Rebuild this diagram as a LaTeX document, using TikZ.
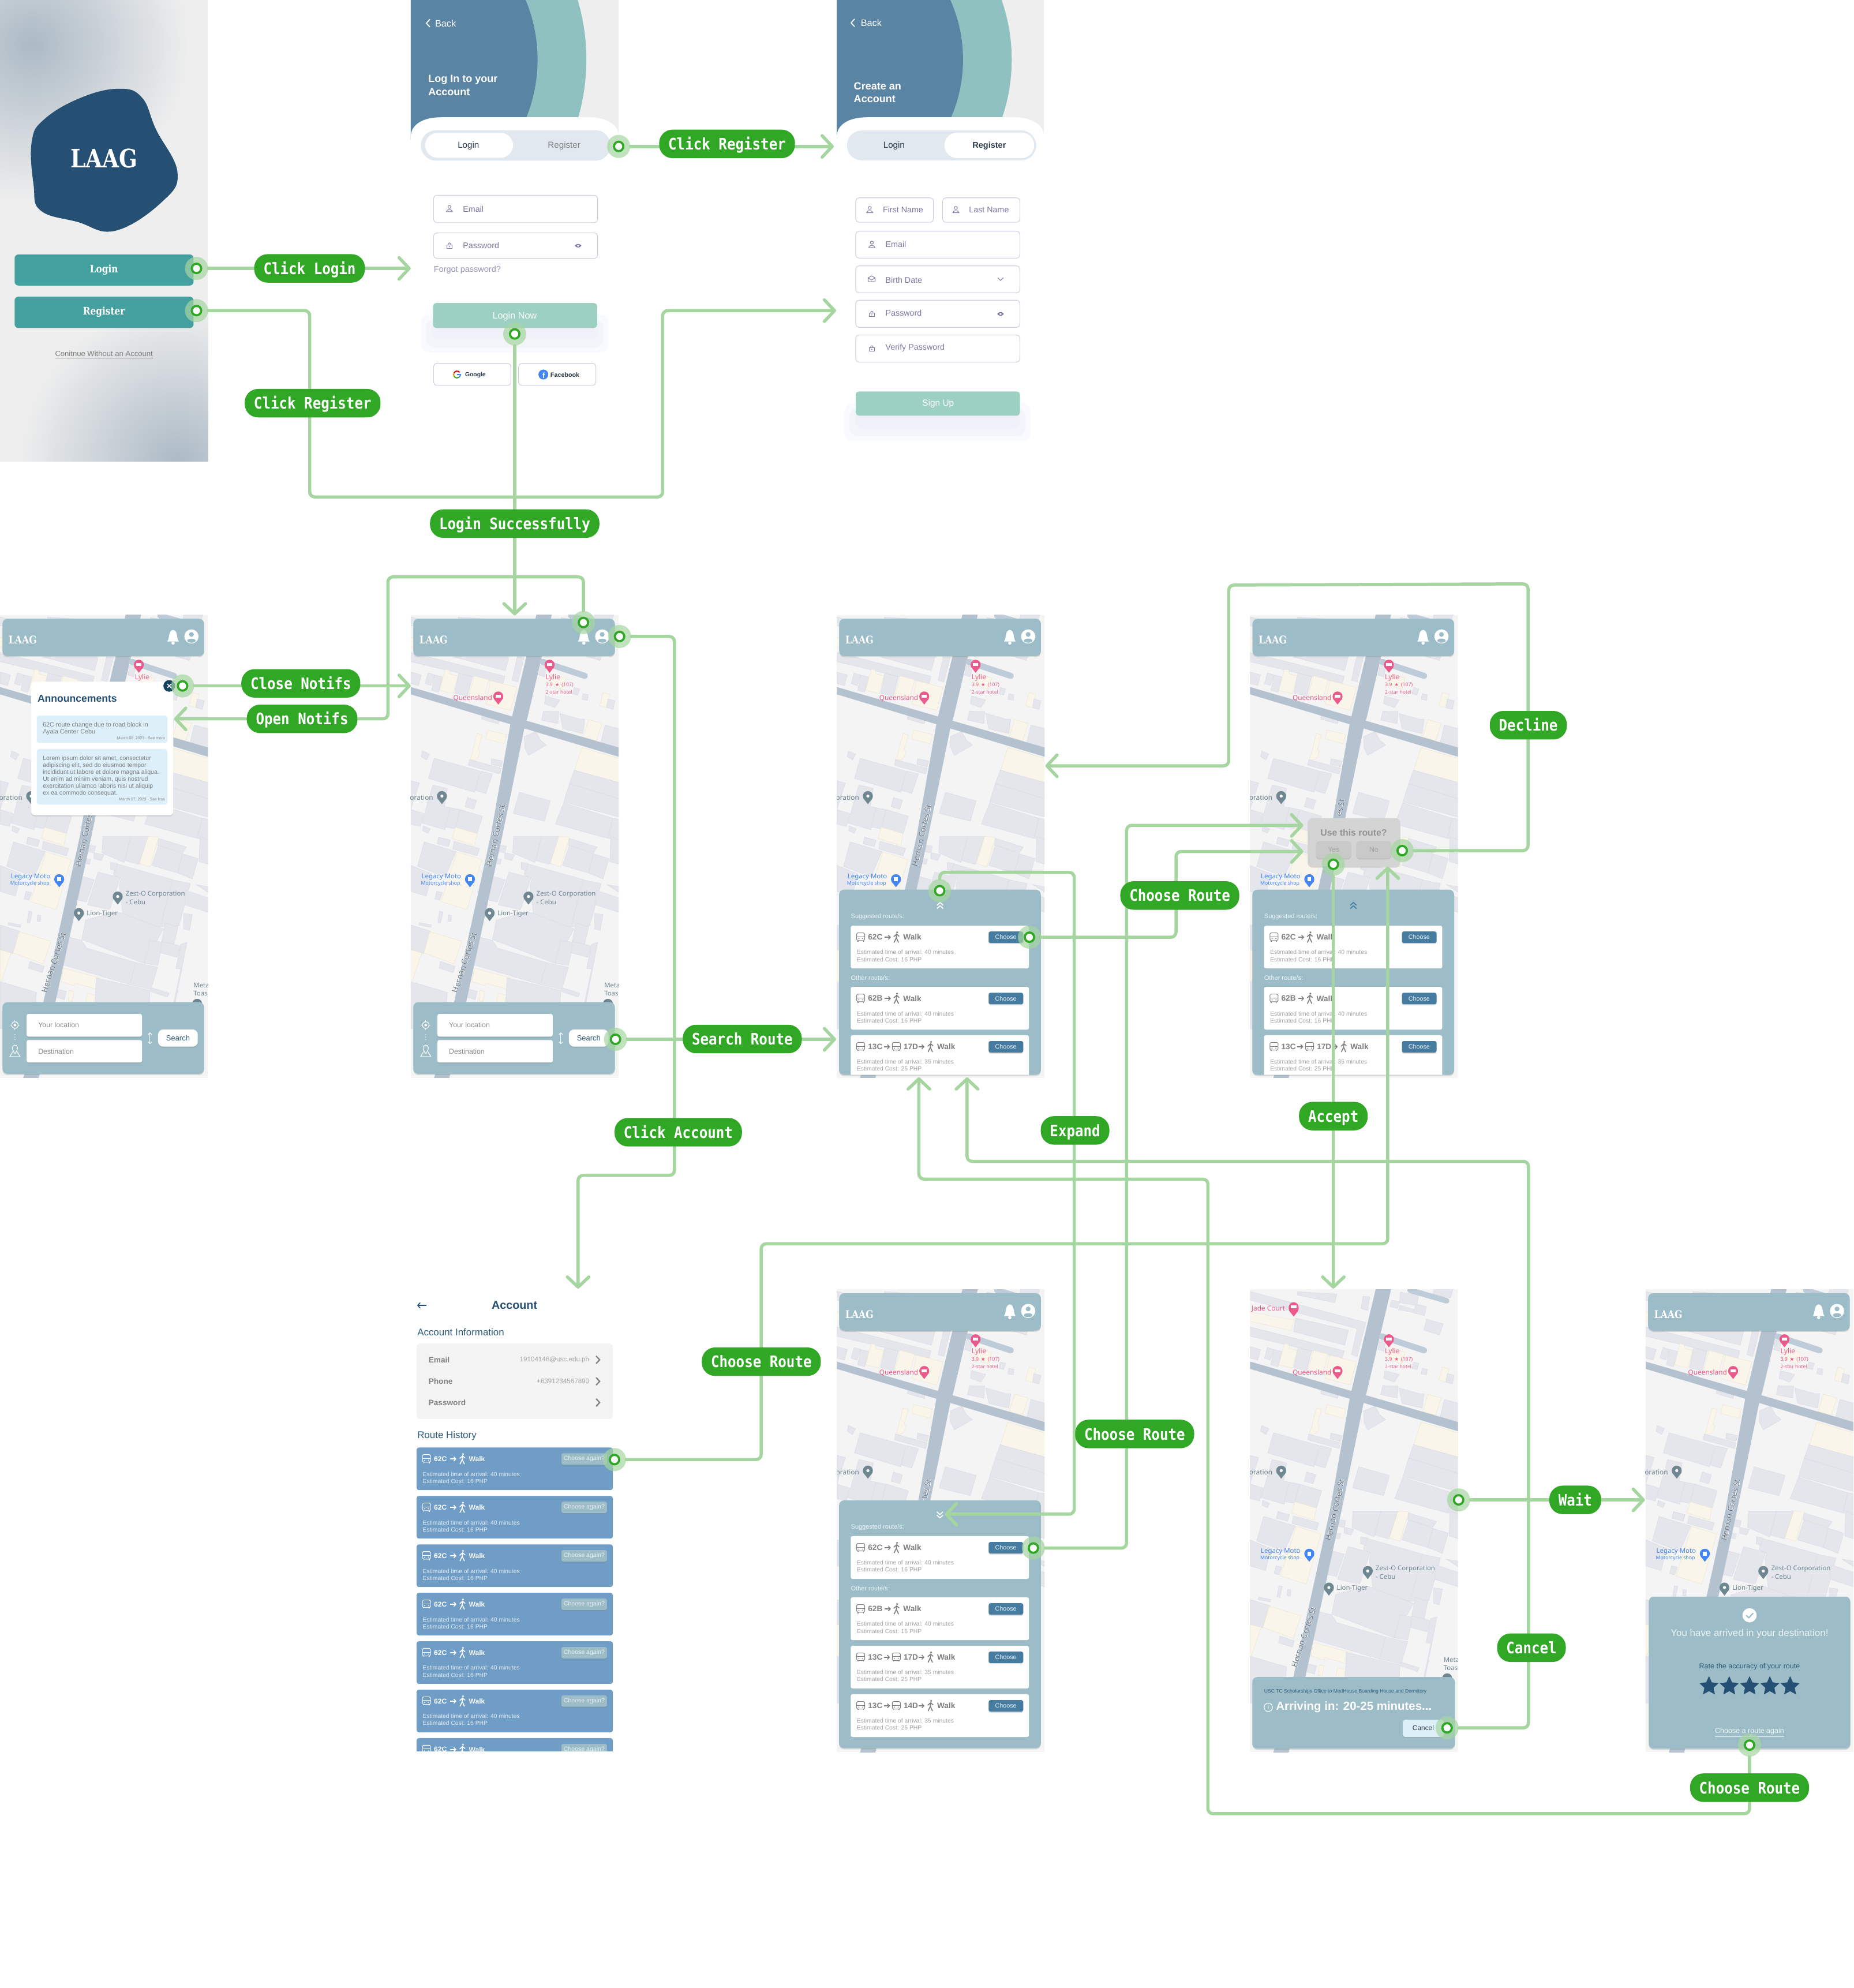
\documentclass[tikz,border=0pt]{standalone}
\usepackage{fontspec}
\setmainfont{Liberation Sans}
\newfontfamily\SlabFont{DejaVu Serif}[FakeStretch=0.85]
\newfontfamily\FlowFont{DejaVu Sans Mono}[FakeStretch=0.88]
\newfontfamily\MapFont{Noto Sans}
\newfontfamily\GlyphFont{DejaVu Sans}
\usetikzlibrary{arrows.meta,shadows,shapes.geometric}
\newcommand{\FS}[1]{\fontsize{#1}{#1}\selectfont}
\definecolor{LineClr}{HTML}{A5D6A0}
\definecolor{LabelClr}{HTML}{30A825}
\definecolor{PanelClr}{HTML}{9CBDC8}
\definecolor{MapBaseClr}{HTML}{F4F4F5}
\definecolor{BldClr}{HTML}{E4E6EB}
\definecolor{BldEdgeClr}{HTML}{D9DBE7}
\definecolor{BgeClr}{HTML}{FAF5EB}
\definecolor{BgeEdgeClr}{HTML}{F0E6CC}
\definecolor{RoadClr}{HTML}{B4C2D0}
\definecolor{SideRoadClr}{HTML}{BECBD8}
\definecolor{RoadTextClr}{HTML}{68747F}
\definecolor{PinkClr}{HTML}{EC5A8C}
\definecolor{PinGrayClr}{HTML}{6F8791}
\definecolor{PinBlueClr}{HTML}{4285F4}
\definecolor{SplashClr}{HTML}{EEEEEE}
\definecolor{GradClr}{HTML}{ACBAC5}
\definecolor{BlobClr}{HTML}{254F73}
\definecolor{ButtonClr}{HTML}{45A0A0}
\definecolor{RingClr}{HTML}{8FC1C1}
\definecolor{CapClr}{HTML}{5A84A3}
\definecolor{ToggleClr}{HTML}{E1E8F0}
\definecolor{FieldClr}{HTML}{CFCFE0}
\definecolor{FieldTextClr}{HTML}{7A7BA5}
\definecolor{MintClr}{HTML}{9CD0C1}
\definecolor{InkClr}{HTML}{2C3A4B}
\definecolor{ChooseClr}{HTML}{457CA0}
\definecolor{RouteTextClr}{HTML}{7F7F7F}
\definecolor{RouteInfoClr}{HTML}{A3A3A3}
\definecolor{NoticeClr}{HTML}{DDF0FA}
\definecolor{DeepClr}{HTML}{12415F}
\definecolor{HistoryClr}{HTML}{6F9DC5}
\definecolor{SlateClr}{HTML}{2D5B7C}
\definecolor{DialogClr}{HTML}{D4D4D4}
\definecolor{DialogBtnClr}{HTML}{C9C9C9}
\definecolor{SoftShadowClr}{HTML}{D5D9EE}
\pgfdeclarelayer{screenlayer}
\pgfdeclarelayer{flowlayer}
\pgfsetlayers{screenlayer,flowlayer,main}
\newcommand{\RoadName}[5]{
  \node[font={\MapFont\bfseries\FS{6.2}},text=white,rotate=#4] (#1A) at (#2-2,#3) {#5};
  \node[font={\MapFont\bfseries\FS{6.2}},text=white,rotate=#4] (#1B) at (#2+2,#3) {#5};
  \node[font={\MapFont\FS{6.2}},text=RoadTextClr,rotate=#4] (#1C) at (#2,#3) {#5};}
\tikzset{
  every node/.style={inner sep=0pt},
  flowline/.style={draw=LineClr,line width=2.5pt,line cap=round,rounded corners=4pt,-{Straight Barb[length=8pt,width=17pt,round]}},
  flowlabel/.style={fill=LabelClr,text=white,rounded corners=10.5pt,minimum height=22.5pt,inner xsep=7.2pt,text height=9.2pt,text depth=0pt,font={\FlowFont\bfseries\FS{12.5}}},
  hotdot/.style={circle,fill=white,draw=LabelClr,line width=1.7pt,minimum size=7.4pt},
  hothalo/.style={circle,fill=LineClr,opacity=.7,minimum size=18.2pt},
  bld/.style={fill=BldClr,draw=BldEdgeClr,line width=.25pt},
  bge/.style={fill=BgeClr,draw=BgeEdgeClr,line width=.25pt},
  maptext/.style={font={\MapFont\FS{#1}},anchor=west},
  uitext/.style={font={\FS{#1}},anchor=west},
  panelshadow/.style={drop shadow={shadow xshift=0pt,shadow yshift=-.9pt,opacity=.25}},
  softshadow/.style={fill=SoftShadowClr,opacity=.14,rounded corners=7pt},
  field/.style={draw=FieldClr,fill=white,line width=.5pt,rounded corners=2.5pt},
  fieldtext/.style={font={\FS{6.5}},anchor=west,text=FieldTextClr},
  cardhead/.style={font={\bfseries\FS{6.2}},anchor=west,text=RouteTextClr},
  routeinfo/.style={font={\FS{4.7}},anchor=west,text=RouteInfoClr},
  routehint/.style={font={\FS{5}},anchor=west,text=white!85!PanelClr},
  historyhead/.style={font={\bfseries\FS{5.5}},anchor=west,text=white},
  historyinfo/.style={font={\FS{4.7}},anchor=west,text=white!82!HistoryClr},
  tinyarrow/.style={-{Straight Barb[length=1.6pt,width=3.4pt]},line width=.7pt},
  mapunits/.style={x=.1517pt,y=-.1517pt,shift={(0,12)}},
  usericon/.pic={\draw[line width=.45pt] (0,-1.4) circle[radius=1.2];
    \draw[line width=.45pt] (-2.4,2.4) .. controls (-2.2,.2) and (2.2,.2) .. (2.4,2.4) -- cycle;},
  lockicon/.pic={\draw[line width=.45pt] (-1.9,-.4) rectangle (1.9,2.2);
    \draw[line width=.45pt] (-1.1,-.4) .. controls (-1.1,-2.6) and (1.1,-2.6) .. (1.1,-.4);
    \fill (0,.9) circle[radius=.45];},
  eyeicon/.pic={\fill (-2.6,0) .. controls (-1.2,-1.9) and (1.2,-1.9) .. (2.6,0) .. controls (1.2,1.9) and (-1.2,1.9) .. (-2.6,0) -- cycle;
    \fill[white] (0,0) circle[radius=.9];},
  mailicon/.pic={\draw[line width=.45pt] (-2.8,-.8) -- (0,-2.4) -- (2.8,-.8) -- (2.8,2) -- (-2.8,2) -- cycle;
    \draw[line width=.45pt] (-2.8,-.8) -- (0,.8) -- (2.8,-.8);},
  busicon/.pic={\draw[line width=.45pt,rounded corners=.9pt] (-3.2,-3.4) rectangle (3.2,2.6);
    \draw[line width=.45pt] (-3.2,-.4) -- (3.2,-.4);
    \draw[line width=.7pt] (-2.2,2.6) -- (-2.2,3.4) (2.2,2.6) -- (2.2,3.4);
    \fill (-1.5,1.1) circle[radius=.45] (1.5,1.1) circle[radius=.45];},
  walkicon/.pic={\fill (.6,-3.8) circle[radius=.85];
    \draw[line width=.75pt,line cap=round] (.3,-2.6) -- (0,.4) -- (-1.7,4) (0,.4) -- (1.7,4) (-1.9,-.5) -- (.3,-2.4) -- (2.1,-.8);},
  laagbar/.pic={
    \fill[PanelClr,rounded corners=4pt,panelshadow] (2,3) rectangle (161,32.5);
    \node[anchor=west,text=white,font={\SlabFont\bfseries\FS{8.4}}] (brand) at (6.6,19.6) {LAAG};
    \fill[white] (131.8,21) .. controls (134,19.2) and (132.4,12.4) .. (136.5,11.8) .. controls (140.6,12.4) and (139,19.2) .. (141.2,21) -- cycle;
    \fill[white] (136.5,22.2) circle[radius=1.3];
    \fill[white] (151,17) circle[radius=5.6];
    \fill[PanelClr] (151,15.4) circle[radius=1.9];
    \fill[PanelClr] (151,20.3) ellipse[x radius=3.3,y radius=1.6];},
  searchpanel/.pic={
    \fill[PanelClr,rounded corners=4pt,panelshadow] (2,305.4) rectangle (161,362);
    \fill[white,rounded corners=1.5pt,panelshadow] (21,314.7) rectangle (112,332.6);
    \fill[white,rounded corners=1.5pt,panelshadow] (21,335.3) rectangle (112,353);
    \node[uitext=5.6,text=RouteInfoClr!85!black] (origin) at (30,323.6) {Your location};
    \node[uitext=5.6,text=RouteInfoClr!85!black] (goal) at (30,344.1) {Destination};
    \fill[white,rounded corners=4pt,panelshadow] (124.7,327) rectangle (156,340.5);
    \node[font={\FS{5.9}},text=SlateClr] (search) at (140.4,333.8) {Search};
    \draw[white,line width=.5pt,{Straight Barb[length=1.3pt,width=2.8pt]}-{Straight Barb[length=1.3pt,width=2.8pt]}] (118.3,329.3) -- (118.3,338.5);
    \draw[white,line width=.5pt] (11.8,323.5) circle[radius=2.6];
    \fill[white] (11.8,323.5) circle[radius=1];
    \draw[white,line width=.5pt] (11.8,319.7) -- (11.8,320.9) (11.8,326.1) -- (11.8,327.3) (8,323.5) -- (9.2,323.5) (14.4,323.5) -- (15.6,323.5);
    \fill[white] (11.8,331) circle[radius=.35] (11.8,333) circle[radius=.35] (11.8,335) circle[radius=.35];
    \draw[white,line width=.5pt] (11.8,346) .. controls (9,342.5) and (9.2,339.3) .. (11.8,339.3) .. controls (14.4,339.3) and (14.6,342.5) .. (11.8,346);
    \draw[white,line width=.5pt] (10,344.5) -- (7.8,348.3) -- (15.8,348.3) -- (13.6,344.5);},
  mapnames/.pic={
    \begin{scope}[mapunits]
    \node[maptext=5.4,text=PinkClr] (queens) at (220,422) {Queensland};
    \node[maptext=4,text=PinkClr] (rating) at (700,352) {3.9 \,{\GlyphFont ★}\, (107)};
    \node[maptext=3.9,text=PinkClr] (stars) at (700,389) {2-star hotel};
    \end{scope}},
  mapstreet/.pic={
    \begin{scope}[mapunits]
    \RoadName{cortesUp}{443}{1135}{77.5}{Hernan Cortes St}
    \end{scope}},
  mapstreetcut/.pic={
    \begin{scope}[mapunits]
    \RoadName{cortesCut}{470}{990}{77.5}{es St}
    \end{scope}},
  mapmid/.pic={
    \begin{scope}[mapunits,shift={(0,1140)}]
    \node[maptext=5.2,text=PinBlueClr] (moto) at (55,210) {Legacy Moto};
    \node[maptext=4,text=PinBlueClr] (shop) at (52,245) {Motorcycle shop};
    \end{scope}},
  maplow/.pic={
    \begin{scope}[mapunits,shift={(0,1140)}]
    \node[maptext=5.2,text=PinGrayClr] (zest) at (652,300) {Zest-O Corporation};
    \node[maptext=5.2,text=PinGrayClr] (cebu) at (652,341) {- Cebu};
    \node[maptext=5.2,text=PinGrayClr] (lion) at (450,402) {Lion-Tiger};
    \end{scope}},
  mapfar/.pic={
    \begin{scope}
    \clip (0,0) rectangle (164,365);
    \begin{scope}[mapunits]
    \RoadName{cortesDown}{280}{1795}{72}{Hernan Cortes St}
    \begin{scope}[shift={(0,1140)}]
    \node[maptext=5.2,text=PinGrayClr] (meta) at (1005,773) {Meta};
    \node[maptext=5.2,text=PinGrayClr] (toas) at (1005,815) {Toas};
    \end{scope}
    \end{scope}
    \end{scope}},
  mapbase/.pic={
    \begin{scope}
    \clip (0,0) rectangle (164,365);
    \fill[MapBaseClr] (0,0) rectangle (164,365);
    \begin{scope}[mapunits]
    \draw[bld] (-5,-3) -- (602,160) -- (557,337) -- (527,327) -- (557,192) -- (-5,42) -- cycle;
    \draw[bge] (-5,104) -- (230,147) -- (214,202) -- (-5,152) -- cycle;
    \draw[bld] (237,137) -- (512,200) -- (492,278) -- (227,207) -- cycle;
    \draw[bld] (247,0) -- (452,12) -- (440,57) -- (247,17) -- cycle;
    \draw[bld] (-5,182) -- (490,307) -- (480,345) -- (-5,230) -- cycle;
    \draw[bld] (587,22) -- (622,27) -- (612,97) -- (577,87) -- cycle;
    \draw[bld] (782,2) -- (877,17) -- (867,72) -- (777,57) -- cycle;
    \draw[bld] (737,44) -- (777,52) -- (767,87) -- (727,77) -- cycle;
    \draw[bld] (777,70) -- (852,92) -- (847,107) -- (772,94) -- cycle;
    \draw[bld] (862,64) -- (917,77) -- (907,124) -- (850,110) -- cycle;
    \draw[bld] (917,142) -- (1004,167) -- (985,225) -- (904,200) -- cycle;
    \draw[bld] (957,-18) -- (1057,-18) -- (1042,32) -- (952,12) -- cycle;
    \draw[bld] (0,285) -- (55,300) -- (40,355) -- (0,345) -- cycle;
    \draw[bld] (90,290) -- (125,300) -- (105,355) -- (75,345) -- cycle;
    \draw[bld] (125,300) -- (165,310) -- (145,390) -- (108,380) -- cycle;
    \draw[bld] (250,290) -- (320,310) -- (295,410) -- (228,395) -- cycle;
    \draw[bge] (180,270) -- (200,275) -- (205,295) -- (245,305) -- (220,397) -- (150,380) -- cycle;
    \draw[bge] (330,305) -- (405,325) -- (380,420) -- (302,408) -- cycle;
    \draw[bge] (415,330) -- (552,365) -- (520,485) -- (390,450) -- cycle;
    \draw[bge] (725,295) -- (805,315) -- (790,375) -- (715,350) -- cycle;
    \draw[bld] (675,250) -- (705,258) -- (695,310) -- (665,300) -- cycle;
    \draw[bld] (850,365) -- (878,372) -- (868,405) -- (842,398) -- cycle;
    \draw[bld] (895,398) -- (922,403) -- (918,432) -- (890,427) -- cycle;
    \draw[bld] (700,410) -- (775,430) -- (750,470) -- (695,450) -- cycle;
    \draw[bge] (1000,392) -- (1035,402) -- (1017,470) -- (982,460) -- cycle;
    \draw[bld] (1025,425) -- (1062,435) -- (1052,480) -- (1018,470) -- cycle;
    \draw[bld] (690,487) -- (720,490) -- (770,490) -- (765,553) -- (680,535) -- cycle;
    \draw[bld] (775,500) -- (880,530) -- (905,530) -- (895,605) -- (790,580) -- cycle;
    \draw[bge] (925,533) -- (995,552) -- (965,642) -- (897,622) -- cycle;
    \draw[bld] (1010,560) -- (1085,580) -- (1085,680) -- (988,655) -- cycle;
    \draw[bld] (370,500) -- (462,525) -- (455,555) -- (368,530) -- cycle;
    \draw[bge] (400,587) -- (497,610) -- (485,658) -- (390,632) -- cycle;
    \draw[bge] (345,605) -- (372,612) -- (350,690) -- (360,695) -- (352,725) -- (335,740) -- (310,740) -- cycle;
    \draw[bld] (590,620) -- (650,595) -- (675,640) -- (705,665) -- (612,718) -- (593,680) -- cycle;
    \draw[bge] (890,678) -- (1085,735) -- (1085,870) -- (852,795) -- cycle;
    \draw[bld] (850,795) -- (1085,860) -- (1085,945) -- (825,865) -- cycle;
    \draw[bld] (825,865) -- (1085,945) -- (1085,1040) -- (795,960) -- cycle;
    \draw[bld] (795,965) -- (1050,1045) -- (1025,1150) -- (752,1075) -- cycle;
    \draw[bld] (1050,1045) -- (1085,1050) -- (1085,1160) -- (1028,1150) -- cycle;
    \draw[bld] (60,695) -- (98,712) -- (82,742) -- (55,725) -- cycle;
    \draw[bld] (122,733) -- (360,800) -- (332,910) -- (92,838) -- cycle;
    \draw[bld] (365,800) -- (425,815) -- (390,917) -- (335,900) -- cycle;
    \draw[bld] (305,740) -- (470,785) -- (463,815) -- (300,770) -- cycle;
    \draw[bld] (420,735) -- (478,748) -- (470,778) -- (417,765) -- cycle;
    \draw[bld] (115,872) -- (190,890) -- (175,985) -- (205,990) -- (178,1105) -- (58,1070) -- cycle;
    \draw[bld] (0,850) -- (45,862) -- (0,1000) -- cycle;
    \draw[bld] (205,990) -- (255,1000) -- (232,1100) -- (178,1090) -- cycle;
    \draw[bld] (258,1000) -- (373,1035) -- (345,1125) -- (232,1095) -- cycle;
    \draw[bld] (0,1000) -- (68,1020) -- (50,1088) -- (0,1075) -- cycle;
    \draw[bld] (295,937) -- (342,952) -- (328,998) -- (282,985) -- cycle;
    \draw[bld] (565,910) -- (725,955) -- (695,1060) -- (533,1020) -- cycle;
    \draw[bld] (65,1085) -- (102,1100) -- (90,1123) -- (62,1110) -- cycle;
    \draw[bge] (232,1092) -- (345,1125) -- (332,1187) -- (215,1150) -- cycle;
    \draw[bld] (145,1143) -- (205,1160) -- (195,1192) -- (138,1175) -- cycle;
    \begin{scope}[shift={(0,1140)}]
    \draw[bld] (70,28) -- (235,78) -- (178,210) -- (35,155) -- cycle;
    \draw[bge] (240,80) -- (370,120) -- (292,380) -- (158,338) -- cycle;
    \draw[bld] (0,150) -- (110,195) -- (80,310) -- (0,285) -- cycle;
    \draw[bld] (145,5) -- (205,20) -- (195,52) -- (138,38) -- cycle;
    \draw[bld] (225,25) -- (358,62) -- (345,100) -- (218,65) -- cycle;
    \draw[bld] (135,285) -- (165,292) -- (150,332) -- (125,325) -- cycle;
    \draw[bld] (150,388) -- (168,392) -- (155,450) -- (140,448) -- cycle;
    \draw[bld] (195,408) -- (212,410) -- (210,442) -- (192,440) -- cycle;
    \draw[bld] (45,448) -- (108,460) -- (105,473) -- (42,460) -- cycle;
    \draw[bld] (0,460) -- (103,492) -- (65,608) -- (0,590) -- cycle;
    \draw[bge] (100,495) -- (265,545) -- (225,662) -- (68,605) -- cycle;
    \draw[bge] (0,590) -- (58,605) -- (0,770) -- cycle;
    \draw[bld] (155,650) -- (230,675) -- (220,708) -- (148,685) -- cycle;
    \draw[bld] (0,755) -- (190,810) -- (175,1000) -- (0,1000) -- cycle;
    \draw[bge] (330,685) -- (522,735) -- (505,795) -- (390,762) -- (385,775) -- (318,755) -- cycle;
    \draw[bld] (265,785) -- (345,805) -- (335,848) -- (260,825) -- cycle;
    \draw[bge] (360,800) -- (385,805) -- (375,858) -- (355,855) -- cycle;
    \draw[bge] (455,815) -- (497,825) -- (485,870) -- (445,865) -- cycle;
    \draw[bld] (600,140) -- (900,225) -- (830,470) -- (640,420) -- (620,250) -- (630,220) -- (590,200) -- cycle;
    \draw[bld] (510,185) -- (625,215) -- (570,380) -- (455,355) -- cycle;
    \draw[bld] (420,205) -- (490,225) -- (450,340) -- (400,330) -- cycle;
    \draw[bld] (895,225) -- (990,245) -- (930,465) -- (835,470) -- cycle;
    \draw[bld] (965,280) -- (1085,320) -- (1085,395) -- (960,355) -- cycle;
    \draw[bld] (445,435) -- (610,390) -- (850,480) -- (750,660) -- (425,535) -- cycle;
    \draw[bld] (345,520) -- (425,540) -- (450,580) -- (705,655) -- (675,770) -- (320,665) -- cycle;
    \draw[bld] (705,655) -- (820,680) -- (785,795) -- (675,770) -- cycle;
    \draw[bld] (780,540) -- (845,550) -- (820,670) -- (750,660) -- cycle;
    \draw[bld] (860,450) -- (925,470) -- (905,560) -- (840,545) -- cycle;
    \draw[bld] (840,545) -- (940,570) -- (920,628) -- (835,605) -- cycle;
    \draw[bld] (915,685) -- (940,560) -- (972,550) -- (945,690) -- cycle;
    \draw[bld] (955,400) -- (1000,405) -- (985,488) -- (955,480) -- cycle;
    \draw[bld] (500,735) -- (780,800) -- (770,1000) -- (490,1000) -- cycle;
    \draw[bld] (785,785) -- (880,815) -- (870,835) -- (782,805) -- cycle;
    \draw[bld] (940,690) -- (945,690) -- (885,1000) -- (875,1000) -- cycle;
    \draw[bld] (535,0) -- (680,0) -- (645,135) -- (530,85) -- cycle;
    \draw[bld] (680,0) -- (770,0) -- (720,145) -- (650,125) -- cycle;
    \draw[bge] (770,0) -- (825,5) -- (780,158) -- (725,140) -- cycle;
    \draw[bld] (825,10) -- (970,55) -- (950,85) -- (820,45) -- cycle;
    \draw[bld] (825,45) -- (950,90) -- (925,190) -- (790,150) -- cycle;
    \draw[bld] (950,90) -- (1030,115) -- (1000,220) -- (925,190) -- cycle;
    \draw[bld] (1040,0) -- (1085,20) -- (1085,145) -- (1035,130) -- cycle;
    \draw[bld] (1020,250) -- (1085,262) -- (1085,292) -- cycle;
    \draw[bld] (575,135) -- (610,140) -- (600,178) -- (575,170) -- cycle;
    \draw[bld] (490,85) -- (540,95) -- (525,125) -- (488,115) -- cycle;
    \draw[bld] (465,45) -- (497,50) -- (490,85) -- (458,80) -- cycle;
    \draw[bld] (440,112) -- (472,118) -- (465,145) -- (438,140) -- cycle;
    \end{scope}
    \fill[RoadClr] (-10,360) -- (1090,680) -- (1090,728) -- (-10,398) -- cycle;
    \fill[RoadClr] (655,-20) -- (735,-20) -- (607,520) -- (590,580) -- (475,1140) -- (258,2140) -- (200,2400) -- (120,2400) -- (195,2140) -- (415,1140) -- (520,545) -- cycle;
    \draw[SideRoadClr,line width=4.8pt,line cap=round] (685,232) -- (905,305);
    \draw[SideRoadClr,line width=4.4pt,line cap=round] (832,-8) -- (1022,47);
    \fill[PinkClr] (722,247) circle[radius=26];
    \fill[PinkClr] (722,247) ++(-23,12) -- ++(23,30) -- ++(23,-30) -- cycle;
    \fill[white] (708,238) rectangle (736,254);
    \fill[PinkClr] (455,412) circle[radius=26];
    \fill[PinkClr] (455,412) ++(-23,12) -- ++(23,30) -- ++(23,-30) -- cycle;
    \fill[white] (441,403) rectangle (469,419);
    \fill[PinkClr] (227,87) circle[radius=26];
    \fill[PinkClr] (227,87) ++(-23,12) -- ++(23,30) -- ++(23,-30) -- cycle;
    \fill[white] (213,78) rectangle (241,94);
    \fill[PinGrayClr] (162,930) circle[radius=26];
    \fill[PinGrayClr] (162,930) ++(-23,12) -- ++(23,30) -- ++(23,-30) -- cycle;
    \fill[white] (162,930) circle[radius=8];
    \node[maptext=5.5,text=PinkClr] (lylie) at (700,313) {Lylie};
    \node[maptext=5.4,text=PinGrayClr,anchor=east] (corpo) at (118,938) {oration};
    \begin{scope}[shift={(0,1140)}]
    \fill[PinBlueClr] (308,222) circle[radius=26];
    \fill[PinBlueClr] (308,222) ++(-23,12) -- ++(23,30) -- ++(23,-30) -- cycle;
    \fill[white] (298,212) rectangle (318,232);
    \fill[PinGrayClr] (612,312) circle[radius=26];
    \fill[PinGrayClr] (612,312) ++(-23,12) -- ++(23,30) -- ++(23,-30) -- cycle;
    \fill[white] (612,312) circle[radius=8];
    \fill[PinGrayClr] (410,398) circle[radius=26];
    \fill[PinGrayClr] (410,398) ++(-23,12) -- ++(23,30) -- ++(23,-30) -- cycle;
    \fill[white] (410,398) circle[radius=8];
    \fill[PinGrayClr] (1025,870) circle[radius=26];
    \end{scope}
    \end{scope}
    \end{scope}}
}
\newcommand{\RouteBody}[3]{
  \begin{scope}[shift={(0,#1)}]
  \fill[white,rounded corners=1.5pt] (11,0) rectangle (151.6,33.7);
  \node[routeinfo] (eta) at (15.7,21) {Estimated time of arrival: #2 minutes};
  \node[routeinfo] (cost) at (15.7,26.5) {Estimated Cost: #3 PHP};
  \fill[ChooseClr,rounded corners=1.5pt,panelshadow] (119.8,4.6) rectangle (147.1,13.7);
  \node[font={\FS{4.9}},text=white!88!ChooseClr] (choose) at (133.4,9.1) {Choose};
  \pic[color=RouteTextClr] at (18.9,9.1) {busicon};
  \end{scope}}
\newcommand{\RouteSingle}[2]{
  \begin{scope}[shift={(0,#1)},color=RouteTextClr]
  \node[cardhead] (busno) at (24.5,9.1) {#2};
  \draw[tinyarrow] (37.9,9.1) -- (42.7,9.1);
  \pic at (47,9.1) {walkicon};
  \node[cardhead] (walk) at (52.3,9.1) {Walk};
  \end{scope}}
\newcommand{\RouteDouble}[3]{
  \begin{scope}[shift={(0,#1)},color=RouteTextClr]
  \node[cardhead] (busno) at (24.5,9.1) {#2};
  \draw[tinyarrow] (37.2,9.1) -- (42,9.1);
  \pic at (47,9.1) {busicon};
  \node[cardhead] (busnext) at (52.6,9.1) {#3};
  \draw[tinyarrow] (64.4,9.1) -- (69.2,9.1);
  \pic at (73.8,9.1) {walkicon};
  \node[cardhead] (walk) at (79,9.1) {Walk};
  \end{scope}}
\newcommand{\RoutePanel}[5]{
  \begin{scope}[shift={(#2,#3)},name prefix=#1]
  \fill[PanelClr,rounded corners=4pt,panelshadow] (1.8,#4) rectangle (161,362.8);
  \begin{scope}
  \clip[rounded corners=4pt] (1.8,#4) rectangle (161,362.8);
  \begin{scope}[shift={(0,#5)}]
  \node[routehint] (suggested) at (11,188.6) {Suggested route/s:};
  \RouteBody{195.6}{40}{16}
  \RouteSingle{195.6}{62C}
  \node[routehint] (others) at (11,236.7) {Other route/s:};
  \RouteBody{243.9}{40}{16}
  \RouteSingle{243.9}{62B}
  \RouteBody{282}{35}{25}
  \RouteDouble{282}{13C}{17D}
  \end{scope}
  \end{scope}
  \end{scope}}
\newcommand{\RouteFourth}[2]{
  \begin{scope}[shift={(#1,#2)},name prefix=fourth]
  \RouteBody{320.3}{35}{25}
  \RouteDouble{320.3}{13C}{14D}
  \end{scope}}
\newcommand{\Chevrons}[4]{
  \begin{scope}[shift={(#1,#2)},yscale=#4]
  \draw[#3,line width=.8pt,line join=round] (-2.4,-2.6) -- (0,-.4) -- (2.4,-2.6);
  \draw[#3,line width=.8pt,line join=round] (-2.4,0) -- (0,2.2) -- (2.4,0);
  \end{scope}}
\newcommand{\HistoryCard}[1]{
  \begin{scope}[shift={(0,#1)}]
  \fill[HistoryClr,rounded corners=1.8pt] (328.6,0) rectangle (483.4,33.6);
  \pic[color=white] at (336.4,9) {busicon};
  \node[historyhead] (busno) at (342.1,9) {62C};
  \draw[tinyarrow,white] (355,9) -- (360,9);
  \pic[color=white] at (364.6,9) {walkicon};
  \node[historyhead] (walk) at (369.7,9) {Walk};
  \node[historyinfo] (eta) at (333.3,21) {Estimated time of arrival: 40 minutes};
  \node[historyinfo] (cost) at (333.3,26.5) {Estimated Cost: 16 PHP};
  \fill[PanelClr,rounded corners=1.5pt,panelshadow] (442.8,4.5) rectangle (478.8,13.5);
  \node[font={\FS{4.8}},text=white!80!PanelClr] (again) at (460.8,9) {Choose again?};
  \end{scope}}
\newcommand{\HotDot}[3]{
  \node[hothalo] (#1Hot) at (#2,#3) {};
  \node[hotdot] (#1Dot) at (#2,#3) {};}
\begin{document}
\begin{tikzpicture}[x=1pt,y=-1pt]
\useasboundingbox (0,0) rectangle (1462,1568);

\begin{pgfonlayer}{screenlayer}
\fill[SplashClr] (0,0) rectangle (164,364);
\begin{scope}
\clip (0,0) rectangle (164,364);
\shade[inner color=GradClr,outer color=SplashClr] (25,35) circle[radius=125];
\shade[inner color=GradClr,outer color=SplashClr] (140,365) circle[radius=125];
\end{scope}
\fill[BlobClr] plot[smooth cycle,tension=.7] coordinates {(94,70) (112,77) (123,102) (140,136) (128,159) (91,182) (61,175) (32,166) (26.5,146) (25,112) (35,94) (64,77)};
\node[text=white,font={\SlabFont\bfseries\FS{20}}] (splashLogo) at (82,125) {LAAG};
\fill[ButtonClr,rounded corners=3pt] (11.5,200.7) rectangle (152.7,225.2);
\fill[ButtonClr,rounded corners=3pt] (11.5,234) rectangle (152.7,258.7);
\node[text=white,font={\SlabFont\bfseries\FS{8.2}}] (splashLogin) at (82,213) {Login};
\node[text=white,font={\SlabFont\bfseries\FS{8.2}}] (splashRegister) at (82,246) {Register};
\node[text=RouteTextClr,font={\FS{5.95}}] (splashGuest) at (82,280) {\underline{Conitnue Without an Account}};

\begin{scope}
\clip (324,0) rectangle (488,110);
\fill[SplashClr] (324,0) rectangle (488,110);
\fill[RingClr] (298.5,47) circle[radius=164];
\fill[CapClr] (302,47) circle[radius=122];
\end{scope}
\fill[white] (324,108) .. controls (324,98) and (334,92.5) .. (348,92.5) -- (464,92.5) .. controls (478,92.5) and (488,98) .. (488,108) -- (488,130) -- (324,130) -- cycle;
\draw[white,line width=.8pt,line cap=round,line join=round] (339,15.4) -- (336.3,18.3) -- (339,21.2);
\node[uitext=7.4,text=white] (loginBack) at (343,18.3) {Back};
\node[font={\bfseries\FS{8.2}},anchor=west,text=white] (loginTitleA) at (337.7,62.7) {Log In to your};
\node[font={\bfseries\FS{8.2}},anchor=west,text=white] (loginTitleB) at (337.7,72.7) {Account};
\fill[ToggleClr,rounded corners=12pt] (332,102.7) rectangle (481.6,126.7);
\fill[white,rounded corners=9.8pt] (335.4,104.8) rectangle (404.7,124.4);
\node[text=InkClr,font={\FS{6.9}}] (loginTabA) at (369.5,115) {Login};
\node[text=RouteTextClr,font={\FS{6.9}}] (loginTabB) at (445,115) {Register};
\draw[field] (342,154) rectangle (471.4,175.6);
\pic[color=FieldTextClr] at (354.5,164.6) {usericon};
\node[fieldtext] (loginEmail) at (365,164.8) {Email};
\draw[field] (342,183.7) rectangle (471.4,203.8);
\pic[color=FieldTextClr] at (354.5,193.6) {lockicon};
\node[fieldtext] (loginPass) at (365,193.8) {Password};
\pic[color=FieldTextClr] at (456,193.8) {eyeicon};
\node[uitext=6.6,text=FieldTextClr!80!white] (loginForgot) at (342,213) {Forgot password?};
\fill[softshadow] (332,248) rectangle (480,278);
\fill[softshadow] (336,252) rectangle (476,274);
\fill[softshadow] (340,254) rectangle (472,268);
\fill[MintClr,rounded corners=2.5pt] (341.5,239) rectangle (471,258.7);
\node[text=white,font={\FS{7.4}}] (loginNow) at (406,249.5) {Login Now};
\draw[field] (342,286.6) rectangle (403,304);
\draw[field] (409,286.6) rectangle (470,304);
\draw[red!80!black,line width=.9pt] (360.5,295.4) ++(-40:2.7) arc[start angle=-40,end angle=-150,radius=2.7];
\draw[orange,line width=.9pt] (360.5,295.4) ++(-150:2.7) arc[start angle=-150,end angle=-210,radius=2.7];
\draw[LabelClr,line width=.9pt] (360.5,295.4) ++(-210:2.7) arc[start angle=-210,end angle=-310,radius=2.7];
\draw[PinBlueClr,line width=.9pt] (360.5,295.4) ++(-310:2.7) arc[start angle=-310,end angle=-360,radius=2.7] -- (360.5,295.4);
\node[font={\bfseries\FS{4.7}},text=InkClr,anchor=west] (loginGoogle) at (366.7,295.8) {Google};
\fill[PinBlueClr] (428.6,295.4) circle[radius=3.9];
\node[font={\bfseries\FS{6}},text=white] (loginFbMark) at (428.9,296.2) {f};
\node[font={\bfseries\FS{4.9}},text=InkClr,anchor=west] (loginFacebook) at (434,295.8) {Facebook};

\begin{scope}
\clip (660,0) rectangle (823.5,110);
\fill[SplashClr] (660,0) rectangle (823.5,110);
\fill[RingClr] (656,47) circle[radius=142];
\fill[CapClr] (644.6,47) circle[radius=115];
\end{scope}
\fill[white] (660,108) .. controls (660,98) and (670,92.5) .. (684,92.5) -- (799.5,92.5) .. controls (813.5,92.5) and (823.5,98) .. (823.5,108) -- (823.5,130) -- (660,130) -- cycle;
\draw[white,line width=.8pt,line cap=round,line join=round] (674,15.1) -- (671.3,18) -- (674,20.9);
\node[uitext=7.4,text=white] (signBack) at (678.8,18) {Back};
\node[font={\bfseries\FS{8.2}},anchor=west,text=white] (signTitleA) at (673.3,68) {Create an};
\node[font={\bfseries\FS{8.2}},anchor=west,text=white] (signTitleB) at (673.3,78) {Account};
\fill[ToggleClr,rounded corners=12pt] (668,102.9) rectangle (817.4,126.5);
\fill[white,rounded corners=10pt] (745,104.5) rectangle (815.7,124.7);
\node[text=InkClr,font={\FS{6.9}}] (signTabA) at (705.2,115) {Login};
\node[text=InkClr,font={\bfseries\FS{6.6}}] (signTabB) at (780.3,115) {Register};
\draw[field] (675,156) rectangle (736.3,175.3);
\pic[color=FieldTextClr] at (686,165.4) {usericon};
\node[fieldtext] (signFirst) at (696.2,165.4) {First Name};
\draw[field] (743.4,156) rectangle (804.5,175.3);
\pic[color=FieldTextClr] at (754,165.4) {usericon};
\node[fieldtext] (signLast) at (764.2,165.4) {Last Name};
\draw[field] (675,182.3) rectangle (804.5,203.6);
\pic[color=FieldTextClr] at (687.7,192.8) {usericon};
\node[fieldtext] (signEmail) at (698.3,192.9) {Email};
\draw[field] (675,209.7) rectangle (804.5,231);
\pic[color=FieldTextClr] at (687.5,220) {mailicon};
\node[fieldtext] (signBirth) at (698.3,221) {Birth Date};
\draw[FieldTextClr,line width=.5pt] (787,219) -- (789.2,221.2) -- (791.4,219);
\draw[field] (675,236.8) rectangle (804.5,258.2);
\pic[color=FieldTextClr] at (687.7,247.5) {lockicon};
\node[fieldtext] (signPass) at (698.3,247) {Password};
\pic[color=FieldTextClr] at (789.2,247.6) {eyeicon};
\draw[field] (675,264.2) rectangle (804.5,285.6);
\pic[color=FieldTextClr] at (687.7,274.8) {lockicon};
\node[fieldtext] (signVerify) at (698.3,274.5) {Verify Password};
\fill[softshadow] (666,318) rectangle (813,348);
\fill[softshadow] (670,322) rectangle (809,344);
\fill[softshadow] (674,324) rectangle (805,338);
\fill[MintClr,rounded corners=2.5pt] (675,308.8) rectangle (804.5,327.9);
\node[text=white,font={\FS{7}}] (signUp) at (740,318.6) {Sign Up};

\pic (mapA) at (0,485) {mapbase};
\pic (streetA) at (0,485) {mapstreet};
\pic (midA) at (0,485) {mapmid};
\pic (lowA) at (0,485) {maplow};
\pic (farA) at (0,485) {mapfar};
\pic (barA) at (0,485) {laagbar};
\pic (searchA) at (0,485) {searchpanel};
\fill[white,rounded corners=3pt,panelshadow] (24.6,537.7) rectangle (136.7,643);
\node[uitext=8,text=BlobClr,font={\bfseries\FS{8}}] (noteTitle) at (29.4,551) {Announcements};
\fill[NoticeClr,rounded corners=2pt] (29,564.3) rectangle (132,586);
\node[uitext=4.9,text=RouteTextClr] (noteA1) at (33.6,572) {62C route change due to road block in};
\node[uitext=4.9,text=RouteTextClr] (noteA2) at (33.6,577.5) {Ayala Center Cebu};
\node[font={\FS{3.1}},text=RouteTextClr,anchor=east] (noteA3) at (130.3,582.4) {March 08, 2023 · See more};
\fill[NoticeClr,rounded corners=2pt] (29,590.7) rectangle (132,634.6);
\node[uitext=4.8,text=RouteTextClr] (noteB1) at (33.6,598.3) {Lorem ipsum dolor sit amet, consectetur};
\node[uitext=4.8,text=RouteTextClr] (noteB2) at (33.6,603.8) {adipiscing elit, sed do eiusmod  tempor};
\node[uitext=4.8,text=RouteTextClr] (noteB3) at (33.6,609.3) {incididunt ut labore et dolore magna aliqua.};
\node[uitext=4.8,text=RouteTextClr] (noteB4) at (33.6,614.8) {Ut enim ad minim  veniam, quis nostrud};
\node[uitext=4.8,text=RouteTextClr] (noteB5) at (33.6,620.2) {exercitation ullamco laboris nisi ut aliquip};
\node[uitext=4.8,text=RouteTextClr] (noteB6) at (33.6,625.7) {ex ea  commodo consequat.};
\node[font={\FS{3.1}},text=RouteTextClr,anchor=east] (noteB7) at (130.3,630.7) {March 07, 2023 · See less};
\fill[DeepClr] (133.5,541) circle[radius=4.6];
\draw[white,line width=.7pt] (132,539.5) -- (135,542.5) (135,539.5) -- (132,542.5);

\pic (mapB) at (324,485) {mapbase};
\pic (streetB) at (324,485) {mapstreet};
\pic (namesB) at (324,485) {mapnames};
\pic (midB) at (324,485) {mapmid};
\pic (lowB) at (324,485) {maplow};
\pic (farB) at (324,485) {mapfar};
\pic (barB) at (324,485) {laagbar};
\pic (searchB) at (324,485) {searchpanel};

\pic (mapC) at (660,485) {mapbase};
\pic (streetC) at (660,485) {mapstreet};
\pic (namesC) at (660,485) {mapnames};
\pic (midC) at (660,485) {mapmid};
\pic (barC) at (660,485) {laagbar};
\RoutePanel{panelC}{660}{485}{216.7}{49.5}
\Chevrons{741.5}{714}{white}{-1}

\pic (mapD) at (986,485) {mapbase};
\pic (streetD) at (986,485) {mapstreetcut};
\pic (namesD) at (986,485) {mapnames};
\pic (midD) at (986,485) {mapmid};
\pic (barD) at (986,485) {laagbar};
\RoutePanel{panelD}{986}{485}{216.7}{49.5}
\Chevrons{1067.5}{714}{ChooseClr}{-1}
\fill[DialogClr,rounded corners=4pt,panelshadow] (1031.4,645.2) rectangle (1104.5,683.5);
\node[font={\bfseries\FS{7.2}},text=RouteTextClr!85!white] (dialogAsk) at (1067.8,656.5) {Use this route?};
\fill[DialogBtnClr,rounded corners=3pt,panelshadow] (1038,663.3) rectangle (1065.7,677);
\fill[DialogBtnClr,rounded corners=3pt,panelshadow] (1069.9,663.3) rectangle (1097.4,677);
\node[text=RouteInfoClr,font={\FS{5.5}}] (dialogYes) at (1052,670) {Yes};
\node[text=RouteInfoClr,font={\FS{5.5}}] (dialogNo) at (1083.7,670) {No};

\begin{scope}
\clip (328,1130) rectangle (484,1381.3);
\HistoryCard{1141.7}
\HistoryCard{1179.9}
\HistoryCard{1218.1}
\HistoryCard{1256.3}
\HistoryCard{1294.5}
\HistoryCard{1332.7}
\fill[HistoryClr,rounded corners=1.8pt] (328.6,1370.9) rectangle (483.4,1404.5);
\pic[color=white] at (336.4,1379.9) {busicon};
\node[historyhead] (lastBus) at (342.1,1379.9) {62C};
\draw[tinyarrow,white] (355,1379.9) -- (360,1379.9);
\pic[color=white] at (364.6,1379.9) {walkicon};
\node[historyhead] (lastWalk) at (369.7,1379.9) {Walk};
\fill[PanelClr,rounded corners=1.5pt,panelshadow] (442.8,1375.4) rectangle (478.8,1384.4);
\node[font={\FS{4.8}},text=white!80!PanelClr] (lastAgain) at (460.8,1379.9) {Choose again?};
\end{scope}
\draw[BlobClr,line width=.7pt,-{Straight Barb[length=2pt,width=4.4pt]}] (336.5,1029.6) -- (329,1029.6);
\node[font={\bfseries\FS{9}},text=BlobClr] (acctTitle) at (405.8,1029.6) {Account};
\node[uitext=7.7,text=SlateClr] (acctInfo) at (329,1050.6) {Account Information};
\fill[SplashClr!70!white,rounded corners=2.5pt] (328.6,1059.6) rectangle (483.4,1119.2);
\node[font={\bfseries\FS{6.2}},anchor=west,text=RouteTextClr] (acctEmail) at (337.9,1072.5) {Email};
\node[font={\bfseries\FS{6.2}},anchor=west,text=RouteTextClr] (acctPhone) at (337.9,1089.5) {Phone};
\node[font={\bfseries\FS{6.2}},anchor=west,text=RouteTextClr] (acctPass) at (337.9,1106.2) {Password};
\node[font={\FS{5.3}},anchor=east,text=RouteInfoClr] (acctMail) at (465,1072.5) {19104146@usc.edu.ph};
\node[font={\FS{5.3}},anchor=east,text=RouteInfoClr] (acctTel) at (465,1089.5) {+6391234567890};
\draw[RouteTextClr,line width=1pt] (470.2,1069.5) -- (473,1072.5) -- (470.2,1075.5);
\draw[RouteTextClr,line width=1pt] (470.2,1086.5) -- (473,1089.5) -- (470.2,1092.5);
\draw[RouteTextClr,line width=1pt] (470.2,1103.2) -- (473,1106.2) -- (470.2,1109.2);
\node[uitext=7.7,text=SlateClr] (acctRoutes) at (329,1132.4) {Route History};

\pic (mapE) at (660,1017) {mapbase};
\pic (streetE) at (660,1017) {mapstreet};
\pic (namesE) at (660,1017) {mapnames};
\pic (barE) at (660,1017) {laagbar};
\RoutePanel{panelE}{660}{1016}{167.4}{0}
\RouteFourth{660}{1016}
\Chevrons{741.4}{1195}{white}{1}

\pic (mapF) at (986,1017) {mapbase};
\pic (streetF) at (986,1017) {mapstreet};
\pic (namesF) at (986,1017) {mapnames};
\pic (midF) at (986,1017) {mapmid};
\pic (lowF) at (986,1017) {maplow};
\pic (farF) at (986,1017) {mapfar};
\fill[PinkClr] (1020.4,1031) circle[radius=3.9];
\fill[PinkClr] (1020.4,1031) ++(-3.5,1.8) -- ++(3.5,4.5) -- ++(3.5,-4.5) -- cycle;
\fill[white] (1018.3,1029.6) rectangle (1022.5,1032);
\node[maptext=5.4,text=PinkClr] (jade) at (987,1032.4) {Jade Court};
\fill[PanelClr,rounded corners=4pt,panelshadow] (987.8,1322.7) rectangle (1147.6,1379.2);
\node[uitext=3.9,text=SlateClr] (tripName) at (997,1334) {USC TC Scholarships Office to MedHouse Boarding House and Dormitory};
\draw[white,line width=.5pt] (1000.4,1346.6) circle[radius=3.3];
\node[font={\FS{4}},text=white] (tripInfo) at (1000.4,1346.6) {i};
\node[font={\bfseries\FS{9.3}},anchor=west,text=white] (tripEta) at (1006.3,1346.6) {Arriving in: 20-25 minutes...};
\fill[NoticeClr,rounded corners=2pt,panelshadow] (1106.5,1356.4) rectangle (1138.9,1370);
\node[font={\FS{5.4}},text=InkClr] (tripCancel) at (1122.6,1363) {Cancel};

\pic (mapG) at (1298,1017) {mapbase};
\pic (streetG) at (1298,1017) {mapstreet};
\pic (namesG) at (1298,1017) {mapnames};
\pic (midG) at (1298,1017) {mapmid};
\pic (lowG) at (1298,1017) {maplow};
\pic (barG) at (1298,1017) {laagbar};
\fill[PanelClr,rounded corners=4pt,panelshadow] (1300.5,1259.3) rectangle (1459.5,1379.2);
\fill[white] (1380,1274) circle[radius=5.6];
\draw[PanelClr,line width=1pt,line join=round] (1377.4,1274) -- (1379.4,1276) -- (1382.8,1272.4);
\node[font={\FS{7.7}},text=white!80!PanelClr] (doneText) at (1380,1288.6) {You have arrived in your destination!};
\node[font={\FS{5.7}},text=SlateClr] (doneRate) at (1380,1314.5) {Rate the accuracy of your route};
\node[star,star points=5,star point ratio=2.1,fill=BlobClr,minimum size=16pt] (starA) at (1348,1330) {};
\node[star,star points=5,star point ratio=2.1,fill=BlobClr,minimum size=16pt] (starB) at (1364,1330) {};
\node[star,star points=5,star point ratio=2.1,fill=BlobClr,minimum size=16pt] (starC) at (1380,1330) {};
\node[star,star points=5,star point ratio=2.1,fill=BlobClr,minimum size=16pt] (starD) at (1396,1330) {};
\node[star,star points=5,star point ratio=2.1,fill=BlobClr,minimum size=16pt] (starE) at (1412,1330) {};
\node[font={\FS{5.7}},text=white!85!PanelClr] (doneAgain) at (1380,1366.7) {\underline{Choose a route again}};
\end{pgfonlayer}

\HotDot{login}{155}{211.7}
\HotDot{register}{155}{245}
\HotDot{toggle}{488}{115.5}
\HotDot{now}{406}{263.4}
\HotDot{close}{144}{541}
\HotDot{bell}{460.2}{491}
\HotDot{person}{488.7}{502}
\HotDot{search}{485.5}{819.7}
\HotDot{expand}{741.2}{702.5}
\HotDot{pickC}{812}{739.2}
\HotDot{yes}{1051.7}{681.7}
\HotDot{no}{1106}{670.9}
\HotDot{history}{484.7}{1151.2}
\HotDot{pickE}{815.1}{1221}
\HotDot{eta}{1150.5}{1183}
\HotDot{cancel}{1141.4}{1362.8}
\HotDot{again}{1380}{1376.4}

\node[flowlabel] (clickLogin) at (244.2,211.7) {Click Login};
\node[flowlabel] (clickRegister) at (246.6,318) {Click Register};
\node[flowlabel] (clickRegisterTop) at (573.5,113.5) {Click Register};
\node[flowlabel] (loginOk) at (406,413) {Login Successfully};
\node[flowlabel] (closeNotifs) at (237.3,539) {Close Notifs};
\node[flowlabel] (openNotifs) at (238.3,567) {Open Notifs};
\node[flowlabel] (searchRoute) at (585.5,819.5) {Search Route};
\node[flowlabel] (clickAccount) at (535,893) {Click Account};
\node[flowlabel] (expandLabel) at (848,891.6) {Expand};
\node[flowlabel] (chooseC) at (930.6,706.3) {Choose Route};
\node[flowlabel] (chooseE) at (895,1131) {Choose Route};
\node[flowlabel] (chooseAcct) at (600.5,1074) {Choose Route};
\node[flowlabel] (chooseDone) at (1380,1410) {Choose Route};
\node[flowlabel] (acceptLabel) at (1051.7,880.3) {Accept};
\node[flowlabel] (declineLabel) at (1205.5,572) {Decline};
\node[flowlabel] (waitLabel) at (1242.5,1183) {Wait};
\node[flowlabel] (cancelLabel) at (1208,1299.6) {Cancel};

\coordinate (loginEnd) at (324,211.7);
\coordinate (regA) at (244.3,245);
\coordinate (regB) at (244.3,392);
\coordinate (regC) at (522.7,392);
\coordinate (regD) at (522.7,245);
\coordinate (regEnd) at (659.5,245);
\coordinate (toggleEnd) at (657.7,115.5);
\coordinate (nowEnd) at (406,485.4);
\coordinate (closeEnd) at (324,541);
\coordinate (bellA) at (460.2,455);
\coordinate (bellB) at (306,455);
\coordinate (bellC) at (306,567);
\coordinate (bellEnd) at (137.3,567);
\coordinate (personA) at (532,502);
\coordinate (personB) at (532,927);
\coordinate (personC) at (456,927);
\coordinate (personEnd) at (456,1016.4);
\coordinate (searchEnd) at (659.5,819.7);
\coordinate (expandA) at (741.2,688);
\coordinate (expandB) at (847.3,688);
\coordinate (expandC) at (847.3,1194.3);
\coordinate (expandEnd) at (745.2,1194.3);
\coordinate (pickCA) at (927.6,739.2);
\coordinate (pickCB) at (927.6,671.6);
\coordinate (pickCEnd) at (1028,671.6);
\coordinate (pickEA) at (888.6,1221);
\coordinate (pickEB) at (888.6,651);
\coordinate (pickEEnd) at (1028,651);
\coordinate (yesEnd) at (1051.7,1016.4);
\coordinate (noA) at (1205.3,670.9);
\coordinate (noB) at (1205.3,460.5);
\coordinate (noC) at (969.2,461.5);
\coordinate (noD) at (969.2,604);
\coordinate (noEnd) at (824.5,604);
\coordinate (historyA) at (600.4,1151.2);
\coordinate (historyB) at (600.4,981);
\coordinate (historyC) at (1094.6,981);
\coordinate (historyEnd) at (1094.6,683.5);
\coordinate (etaEnd) at (1297.5,1183);
\coordinate (cancelA) at (1205.6,1362.8);
\coordinate (cancelB) at (1205.6,916);
\coordinate (cancelC) at (762.8,916);
\coordinate (cancelEnd) at (762.8,849.7);
\coordinate (againA) at (1380,1430.5);
\coordinate (againB) at (952.8,1430.5);
\coordinate (againC) at (952.8,930);
\coordinate (againD) at (724.8,930);
\coordinate (againEnd) at (724.8,849.7);

\begin{pgfonlayer}{flowlayer}
\draw[flowline] (loginHot) -- (loginEnd);
\draw[flowline] (registerHot) -- (regA) -- (regB) -- (regC) -- (regD) -- (regEnd);
\draw[flowline] (toggleHot) -- (toggleEnd);
\draw[flowline] (nowHot) -- (nowEnd);
\draw[flowline] (closeHot) -- (closeEnd);
\draw[flowline] (bellHot) -- (bellA) -- (bellB) -- (bellC) -- (bellEnd);
\draw[flowline] (personHot) -- (personA) -- (personB) -- (personC) -- (personEnd);
\draw[flowline] (searchHot) -- (searchEnd);
\draw[flowline] (expandHot) -- (expandA) -- (expandB) -- (expandC) -- (expandEnd);
\draw[flowline] (pickCHot) -- (pickCA) -- (pickCB) -- (pickCEnd);
\draw[flowline] (pickEHot) -- (pickEA) -- (pickEB) -- (pickEEnd);
\draw[flowline] (yesHot) -- (yesEnd);
\draw[flowline] (noHot) -- (noA) -- (noB) -- (noC) -- (noD) -- (noEnd);
\draw[flowline] (historyHot) -- (historyA) -- (historyB) -- (historyC) -- (historyEnd);
\draw[flowline] (etaHot) -- (etaEnd);
\draw[flowline] (cancelHot) -- (cancelA) -- (cancelB) -- (cancelC) -- (cancelEnd);
\draw[flowline] (againHot) -- (againA) -- (againB) -- (againC) -- (againD) -- (againEnd);
\end{pgfonlayer}

\end{tikzpicture}
\end{document}
